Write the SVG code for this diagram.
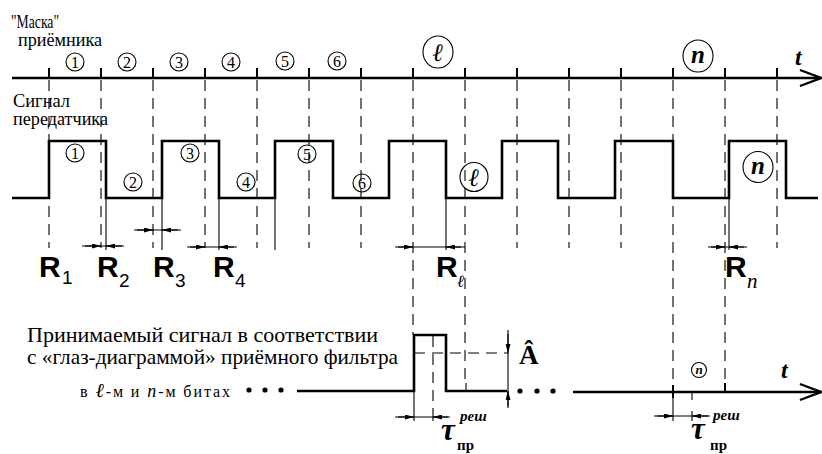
<svg xmlns="http://www.w3.org/2000/svg" width="822" height="454" viewBox="0 0 822 454">
<defs>
<marker id="dimA" viewBox="0 0 9 5" refX="9" refY="2.5" markerWidth="9" markerHeight="5" markerUnits="userSpaceOnUse" orient="auto"><path d="M0,0 L9,2.5 L0,5 z" fill="#000"/></marker>
</defs>
<style>
.axis{stroke:#000;stroke-width:2.6;fill:none}
.wave{stroke:#000;stroke-width:2.6;fill:none;stroke-linejoin:miter}
.tick{stroke:#000;stroke-width:2}
.dash{stroke:#000;stroke-width:1.1;stroke-dasharray:11 7;fill:none}
.thin{stroke:#000;stroke-width:1.1;fill:none}
.dim{stroke:#000;stroke-width:1.1;fill:none}
.arr{stroke:#000;stroke-width:1.1;fill:none;marker-end:url(#dimA)}
.open{stroke:#000;stroke-width:2.4;fill:none;stroke-linejoin:miter}
.circ{fill:none;stroke:#000;stroke-width:1.1}
.ser{font-family:"Liberation Serif","DejaVu Serif",serif;fill:#000}
.num{font-family:"Liberation Serif","DejaVu Serif",serif;font-size:16px;text-anchor:middle;fill:#000}
.it{font-family:"Liberation Serif","DejaVu Serif",serif;font-style:italic;fill:#000}
.R{font-family:"Liberation Sans",Arial,sans-serif;font-weight:bold;font-size:30px;fill:#000}
.sub{font-family:"Liberation Sans",Arial,sans-serif;font-size:19px;fill:#000}
.dot{fill:#000}
</style>
<rect width="822" height="454" fill="#fff"/>

<g id="labels-left">
<text class="ser" x="11" y="28" font-size="18" textLength="48" lengthAdjust="spacingAndGlyphs">"Маска"</text>
<text class="ser" x="18" y="46" font-size="18" textLength="84" lengthAdjust="spacingAndGlyphs">приёмника</text>
<text class="ser" x="13" y="107" font-size="18" textLength="57" lengthAdjust="spacingAndGlyphs">Сигнал</text>
<text class="ser" x="13" y="125" font-size="18" textLength="95" lengthAdjust="spacingAndGlyphs">передатчика</text>
</g>

<g id="mask-axis">
<line class="axis" x1="12" y1="78" x2="821" y2="78"/>
<path class="open" d="M800,70 L821,78 L800,86"/>
<g class="tick">
<line x1="49" y1="68" x2="49" y2="78"/><line x1="101" y1="68" x2="101" y2="78"/><line x1="153" y1="68" x2="153" y2="78"/>
<line x1="205" y1="68" x2="205" y2="78"/><line x1="257" y1="68" x2="257" y2="78"/><line x1="309" y1="68" x2="309" y2="78"/>
<line x1="361" y1="68" x2="361" y2="78"/><line x1="413" y1="68" x2="413" y2="78"/><line x1="465" y1="68" x2="465" y2="78"/>
<line x1="517" y1="68" x2="517" y2="78"/><line x1="569" y1="68" x2="569" y2="78"/><line x1="621" y1="68" x2="621" y2="78"/>
<line x1="673" y1="68" x2="673" y2="78"/><line x1="725" y1="68" x2="725" y2="78"/><line x1="777" y1="68" x2="777" y2="78"/>
</g>
<text class="it" x="795" y="65" font-size="24" font-weight="bold">t</text>
</g>

<g id="mask-bits">
<circle class="circ" cx="75" cy="62" r="9"/><text class="num" x="75" y="67.5">1</text>
<circle class="circ" cx="127" cy="62" r="9"/><text class="num" x="127" y="67.5">2</text>
<circle class="circ" cx="179" cy="62" r="9"/><text class="num" x="179" y="67.5">3</text>
<circle class="circ" cx="231" cy="62" r="9"/><text class="num" x="231" y="67.5">4</text>
<circle class="circ" cx="285" cy="61" r="9"/><text class="num" x="285" y="66.5">5</text>
<circle class="circ" cx="337" cy="61" r="9"/><text class="num" x="337" y="66.5">6</text>
<ellipse class="circ" cx="438" cy="52" rx="15" ry="16"/><text class="it" x="438" y="61" font-size="25" font-weight="bold" text-anchor="middle">ℓ</text>
<ellipse class="circ" cx="698" cy="56" rx="15" ry="16"/><text class="it" x="698" y="63" font-size="25" font-weight="bold" text-anchor="middle">n</text>
</g>

<g id="grid-lines">
<line class="dash" x1="49" y1="80" x2="49" y2="248"/>
<line class="dash" x1="101" y1="80" x2="101" y2="248"/>
<line class="dash" x1="153" y1="80" x2="153" y2="248"/>
<line class="dash" x1="205" y1="80" x2="205" y2="248"/>
<line class="dash" x1="257" y1="80" x2="257" y2="248"/>
<line class="dash" x1="309" y1="80" x2="309" y2="248"/>
<line class="dash" x1="361" y1="80" x2="361" y2="248"/>
<line class="dash" x1="413" y1="80" x2="413" y2="335"/>
<line class="dash" x1="465" y1="80" x2="465" y2="384"/>
<line class="dash" x1="517" y1="80" x2="517" y2="248"/>
<line class="dash" x1="569" y1="80" x2="569" y2="248"/>
<line class="dash" x1="621" y1="80" x2="621" y2="248"/>
<line class="dash" x1="673" y1="80" x2="673" y2="385"/>
<line class="dash" x1="725" y1="80" x2="725" y2="383"/>
<line class="dash" x1="777" y1="80" x2="777" y2="248"/>
</g>

<g id="transmitter">
<path class="wave" d="M12,198 H49 V141 H106 V198 H162 V141 H219 V198 H275 V141 H333 V198 H389 V141 H446 V198 H502 V141 H558 V198 H615 V141 H673 V198 H729 V141 H786 V198 H818"/>
<circle class="circ" cx="75" cy="153" r="9"/><text class="num" x="75" y="158.5">1</text>
<circle class="circ" cx="133" cy="182" r="9"/><text class="num" x="133" y="187.5">2</text>
<circle class="circ" cx="190" cy="153" r="9"/><text class="num" x="190" y="158.5">3</text>
<circle class="circ" cx="246" cy="182" r="9"/><text class="num" x="246" y="187.5">4</text>
<circle class="circ" cx="307" cy="154" r="9"/><text class="num" x="307" y="159.5">5</text>
<circle class="circ" cx="362" cy="183" r="9"/><text class="num" x="362" y="188.5">6</text>
<ellipse class="circ" cx="474" cy="177" rx="14" ry="14.5"/><text class="it" x="474" y="186" font-size="25" font-weight="bold" text-anchor="middle">ℓ</text>
<ellipse class="circ" cx="758" cy="167" rx="15" ry="15.5"/><text class="it" x="758" y="174" font-size="25" font-weight="bold" text-anchor="middle">n</text>
</g>

<g id="connectors">
<line class="thin" x1="106" y1="198" x2="106" y2="250"/>
<line class="thin" x1="162" y1="198" x2="162" y2="250"/>
<line class="thin" x1="219" y1="198" x2="219" y2="250"/>
<line class="thin" x1="275" y1="198" x2="275" y2="250"/>
<line class="thin" x1="446" y1="198" x2="446" y2="250"/>
<line class="thin" x1="729" y1="198" x2="729" y2="250"/>

<line class="dim" x1="82" y1="246" x2="124" y2="246"/>
<line class="arr" x1="85" y1="246" x2="101" y2="246"/>
<line class="arr" x1="122" y1="246" x2="106" y2="246"/>

<line class="dim" x1="134" y1="230" x2="181" y2="230"/>
<line class="arr" x1="137" y1="230" x2="153" y2="230"/>
<line class="arr" x1="178" y1="230" x2="162" y2="230"/>

<line class="dim" x1="187" y1="247" x2="237" y2="247"/>
<line class="arr" x1="190" y1="247" x2="205" y2="247"/>
<line class="arr" x1="234" y1="247" x2="219" y2="247"/>

<line class="dim" x1="395" y1="247" x2="465" y2="247"/>
<line class="arr" x1="398" y1="247" x2="413" y2="247"/>
<line class="arr" x1="461" y1="247" x2="446" y2="247"/>

<line class="dim" x1="708" y1="247" x2="747" y2="247"/>
<line class="arr" x1="711" y1="247" x2="725" y2="247"/>
<line class="arr" x1="744" y1="247" x2="729" y2="247"/>
</g>

<g id="R-labels">
<text class="R" x="39" y="277">R</text><text class="sub" x="62" y="284">1</text>
<text class="R" x="97" y="277">R</text><text class="sub" x="119" y="287">2</text>
<text class="R" x="153" y="277">R</text><text class="sub" x="175" y="287">3</text>
<text class="R" x="213" y="277">R</text><text class="sub" x="235" y="287">4</text>
<text class="R" x="436" y="277">R</text><text class="it" x="457" y="287" font-size="17">ℓ</text>
<text class="R" x="725" y="277">R</text><text class="it" x="747" y="288" font-size="21">n</text>
</g>

<g id="receiver-text">
<text class="ser" x="27" y="342" font-size="21" textLength="351" lengthAdjust="spacingAndGlyphs">Принимаемый сигнал в соответствии</text>
<text class="ser" x="27" y="364" font-size="21" textLength="371" lengthAdjust="spacingAndGlyphs">с «глаз-диаграммой» приёмного фильтра</text>
<text class="ser" x="80" y="397" font-size="16" textLength="150">в <tspan font-style="italic" font-size="20">ℓ</tspan>-м и <tspan font-style="italic" font-size="18">n</tspan>-м битах</text>
<circle class="dot" cx="249" cy="390" r="2.6"/><circle class="dot" cx="265" cy="390" r="2.6"/><circle class="dot" cx="281" cy="390" r="2.6"/>
</g>

<g id="receiver-signal">
<path class="wave" d="M297,391 H414 V335 H446 V391 H507"/>
<circle class="dot" cx="520" cy="391" r="2.6"/><circle class="dot" cx="537" cy="391" r="2.6"/><circle class="dot" cx="553" cy="391" r="2.6"/>
<line class="axis" x1="573" y1="392" x2="821" y2="392"/>
<path class="open" d="M800,384 L821,392 L800,400"/>
<line class="tick" x1="673" y1="385" x2="673" y2="398"/>
<line class="tick" x1="725" y1="383" x2="725" y2="392"/>
<line class="thin" x1="692" y1="392" x2="692" y2="400"/>
<line class="thin" x1="466" y1="383" x2="466" y2="391"/>
<circle class="circ" cx="699" cy="370" r="7.5"/><text class="it" x="699" y="374" font-size="13" font-weight="bold" text-anchor="middle">n</text>
<text class="it" x="781" y="378" font-size="24" font-weight="bold">t</text>

<line class="dash" x1="414" y1="353" x2="508" y2="353"/>
<line class="dash" x1="433" y1="336" x2="433" y2="412"/>
<line class="thin" x1="414" y1="391" x2="414" y2="421"/>
<line class="thin" x1="433" y1="412" x2="433" y2="421"/>

<line class="dim" x1="508" y1="330" x2="508" y2="408"/>
<line class="arr" x1="508" y1="334" x2="508" y2="353"/>
<line class="arr" x1="508" y1="406" x2="508" y2="391"/>
<text class="ser" x="519" y="364" font-size="27" font-weight="bold">Â</text>

<line class="dim" x1="395" y1="417" x2="450" y2="417"/>
<line class="arr" x1="398" y1="417" x2="414" y2="417"/>
<line class="arr" x1="448" y1="417" x2="433" y2="417"/>
<text class="it" x="441" y="440" font-size="31" font-weight="bold">τ</text>
<text class="it" x="460" y="421" font-size="15" font-weight="bold">реш</text>
<text class="ser" x="457" y="450" font-size="15" font-weight="bold">пр</text>

<line class="thin" x1="673" y1="398" x2="673" y2="421"/>
<line class="thin" x1="692" y1="411" x2="692" y2="421"/>
<line class="dim" x1="654" y1="416" x2="710" y2="416"/>
<line class="arr" x1="657" y1="416" x2="673" y2="416"/>
<line class="arr" x1="708" y1="416" x2="692" y2="416"/>
<text class="it" x="691" y="439" font-size="31" font-weight="bold">τ</text>
<text class="it" x="713" y="420" font-size="15" font-weight="bold">реш</text>
<text class="ser" x="710" y="450" font-size="15" font-weight="bold">пр</text>
</g>
</svg>
